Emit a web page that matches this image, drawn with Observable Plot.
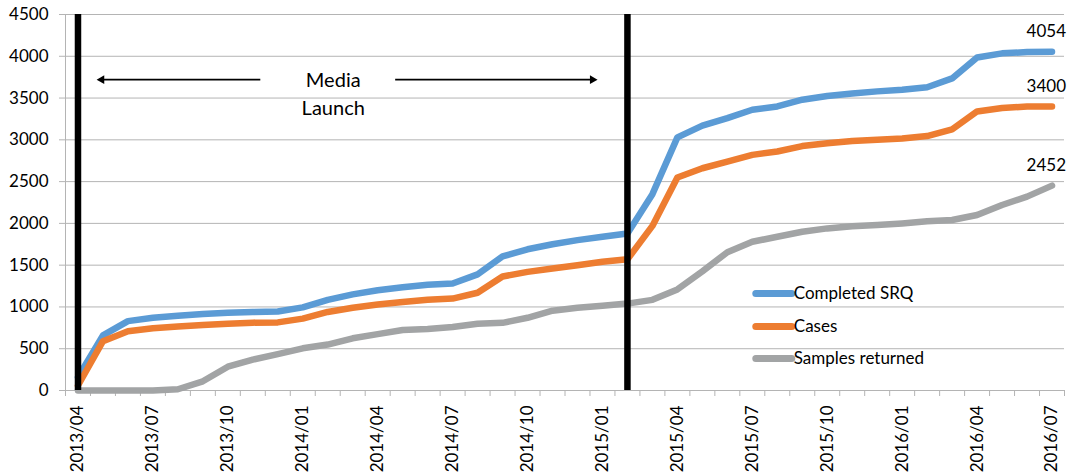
<!DOCTYPE html>
<html><head><meta charset="utf-8">
<script src="https://cdn.jsdelivr.net/npm/d3@7"></script>
<script src="https://cdn.jsdelivr.net/npm/@observablehq/plot@0.6"></script>
<style>
html,body{margin:0;padding:0;background:#fff;}
#chart svg{display:block;}
</style></head><body><div id="chart"></div>
<script>
const months = ["2013/04","2013/05","2013/06","2013/07","2013/08","2013/09","2013/10","2013/11","2013/12",
  "2014/01","2014/02","2014/03","2014/04","2014/05","2014/06","2014/07","2014/08","2014/09","2014/10","2014/11","2014/12",
  "2015/01","2015/02","2015/03","2015/04","2015/05","2015/06","2015/07","2015/08","2015/09","2015/10","2015/11","2015/12",
  "2016/01","2016/02","2016/03","2016/04","2016/05","2016/06","2016/07"];
const completedSRQ = [160,660,830,870,895,915,930,940,945,995,1085,1150,1200,1235,1265,1280,1390,1605,1690,1750,1800,1840,1880,
  2350,3030,3170,3260,3360,3400,3480,3525,3555,3580,3600,3630,3735,3985,4035,4050,4054];
const cases = [60,590,710,745,765,785,800,812,815,860,940,990,1030,1060,1085,1100,1170,1365,1420,1460,1500,1540,1570,
  1970,2550,2660,2740,2820,2860,2925,2960,2985,3000,3015,3045,3125,3340,3380,3400,3400];
const samplesReturned = [0,0,0,0,15,110,285,370,435,505,550,625,675,725,735,760,800,810,870,955,990,1015,1040,
  1085,1210,1425,1655,1780,1840,1900,1940,1965,1980,2000,2025,2040,2100,2220,2320,2452];
const seriesNames = ["Completed SRQ","Cases","Samples returned"];
const seriesColors = ["#5B9BD5","#ED7D31","#A2A4A5"];
const launchMonths = ["2013/04","2015/02"];
const launchText = ["Media","Launch"];
const yTicks = d3.range(0, 4501, 500);

const seriesValues = [completedSRQ, cases, samplesReturned];
const rows = seriesValues.flatMap((vals, s) => vals.map((v, i) => ({i, v, s: seriesNames[s]})));
const idx = m => months.indexOf(m);
const last = months.length - 1;
const labelTicks = months.map((m, i) => i).filter(i => i % 3 === 0);
const boundaries = d3.range(-0.5, months.length, 1);
const grid = "#b4b4b4";

// annotation placement (data space)
const arrowY = 3720;
const legendX1 = 27.14, legendX2 = 28.58;
const legendY = [1160, 766, 383];
const legendRows = seriesNames.map((s, k) => ({s, y: legendY[k]}));

const chart = Plot.plot({
  width: 1069, height: 472,
  marginLeft: 65, marginRight: 5, marginTop: 14, marginBottom: 82,
  style: {fontFamily: "Lato, sans-serif", fontSize: "17px", color: "#000", background: "#fff"},
  x: {domain: [-0.5, months.length - 0.5], axis: null},
  y: {domain: [0, 4500], axis: null},
  color: {domain: seriesNames, range: seriesColors},
  marks: [
    Plot.gridY(yTicks, {stroke: grid, strokeOpacity: 1}),
    Plot.ruleX([-0.5], {stroke: grid}),
    Plot.axisY(yTicks, {tickSize: 6, tickPadding: 11, stroke: grid, fill: "#000", fontSize: 17, tickFormat: d3.format("d"), label: null}),
    Plot.axisX(boundaries, {tickSize: 6, stroke: grid, tickFormat: () => "", label: null}),
    Plot.axisX(labelTicks, {tickSize: 0, tickPadding: 15, tickRotate: -90, tickFormat: i => months[i], fill: "#000", fontSize: 17, label: null}),
    Plot.line(rows, {x: "i", y: "v", z: "s", stroke: "s", strokeWidth: 6.5, strokeLinejoin: "round", strokeLinecap: "round"}),
    Plot.text(seriesValues.map(vals => ({i: last, v: vals[last]})), {x: "i", y: "v", text: d => String(d.v), textAnchor: "end", dx: 14, dy: -20, fontSize: 17, fill: "#000"}),
    Plot.ruleX(launchMonths.map(idx), {y1: 0, y2: 4500, stroke: "#000", strokeWidth: 6.5}),
    // Media launch annotation
    Plot.link([{x1: 7.3, x2: 0.95}, {x1: 12.7, x2: 20.6}], {x1: "x1", x2: "x2", y1: arrowY, y2: arrowY, stroke: "#000", strokeWidth: 1.8}),
    Plot.dot([{x: 0.95, r: -90}, {x: 20.6, r: 90}], {x: "x", y: arrowY, symbol: "triangle2", r: 4.2, rotate: "r", fill: "#000", stroke: "none"}),
    Plot.text([launchText[0]], {x: 10.22, y: arrowY, text: d => d, fontSize: 20, fill: "#000", dy: 1}),
    Plot.text([launchText[1]], {x: 10.22, y: arrowY, text: d => d, fontSize: 20, fill: "#000", dy: 29}),
    // legend
    Plot.link(legendRows, {x1: legendX1, x2: legendX2, y1: "y", y2: "y", stroke: "s", strokeWidth: 7, strokeLinecap: "round"}),
    Plot.text(legendRows, {x: legendX2 + 0.08, y: "y", text: "s", textAnchor: "start", fontSize: 17, fill: "#000"})
  ]
});
document.getElementById("chart").appendChild(chart);
</script></body></html>
